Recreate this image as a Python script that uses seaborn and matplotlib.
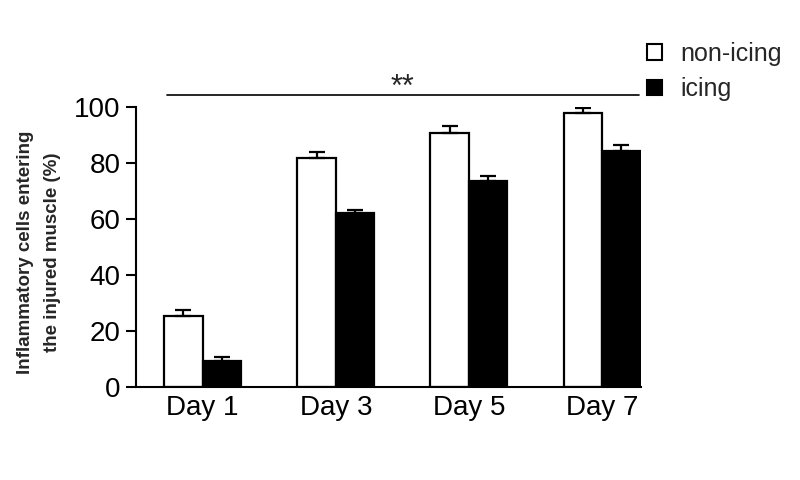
import matplotlib
matplotlib.use("Agg")
import matplotlib.pyplot as plt
import seaborn as sns
import pandas as pd
import numpy as np
from matplotlib.patches import Patch

days = ["Day 1", "Day 3", "Day 5", "Day 7"]
groups = ["non-icing", "icing"]
non_icing = [25.4, 81.7, 90.8, 98.0]
icing = [9.3, 62.3, 73.4, 84.3]
non_icing_err = [1.9, 2.3, 2.3, 1.6]
icing_err = [1.3, 0.8, 2.1, 2.0]
sig_label = "**"
y_label = "Inflammatory cells entering\nthe injured muscle (%)"
y_ticks = [0, 20, 40, 60, 80, 100]

df = pd.DataFrame({
    "day": days * 2,
    "group": [groups[0]] * 4 + [groups[1]] * 4,
    "value": non_icing + icing,
    "err": non_icing_err + icing_err,
})

sns.set_theme(style="ticks")
plt.rcParams["font.family"] = ["Liberation Sans", "DejaVu Sans"]

fig = plt.figure(figsize=(8, 4.8), dpi=100)
ax = fig.add_axes([0.17, 0.194, 0.631, 0.583])

sns.barplot(data=df, x="day", y="value", hue="group", order=days, hue_order=groups,
            palette={"non-icing": "white", "icing": "black"}, edgecolor="black",
            linewidth=1.6, width=0.578, gap=0, errorbar=None, ax=ax, legend=False)

# error bars (upward only) placed on the bar patches
bars = [p for p in ax.patches if p.get_height() > 0]
for p in bars:
    xc = p.get_x() + p.get_width() / 2
    h = p.get_height()
    row = df[np.isclose(df["value"], h)].iloc[0]
    ax.errorbar([xc], [h], yerr=[[0], [row["err"]]], fmt="none", ecolor="black",
                elinewidth=1.6, capsize=5.5, capthick=1.6, zorder=1)

ax.set_xlim(-0.5, 3.29)
ax.set_ylim(0, 100)
ax.set_yticks(y_ticks)
ax.set_xlabel("")
ax.set_ylabel("")
for s in ["top", "right"]:
    ax.spines[s].set_visible(False)
for s in ["left", "bottom"]:
    ax.spines[s].set_linewidth(1.5)
    ax.spines[s].set_color("black")
ax.tick_params(axis="y", length=7, width=1.5, labelsize=20, pad=4, colors="black")
ax.tick_params(axis="x", length=0, labelsize=20, pad=6, colors="black")

# significance line
ax.plot([-0.27, 3.28], [104.3, 104.3], color="black", lw=1.2, clip_on=False)
ax.text(1.5, 106.8, sig_label, ha="center", va="center", fontsize=22, clip_on=False)

fig.text(39 / 800, 0.475, y_label, rotation=90, ha="center", va="center",
         fontsize=13.5, fontweight="bold", multialignment="center", linespacing=1.7)

handles = [Patch(facecolor="white", edgecolor="black", linewidth=1.5, label=groups[0]),
           Patch(facecolor="black", edgecolor="black", linewidth=1.5, label=groups[1])]
fig.legend(handles=handles, loc="upper left", bbox_to_anchor=(647 / 800, 1 - 42 / 480),
           frameon=False, fontsize=18, handlelength=0.6, handleheight=0.6,
           handletextpad=0.75, labelspacing=0.45, borderpad=0, borderaxespad=0)

fig.savefig("out.png", dpi=100)
